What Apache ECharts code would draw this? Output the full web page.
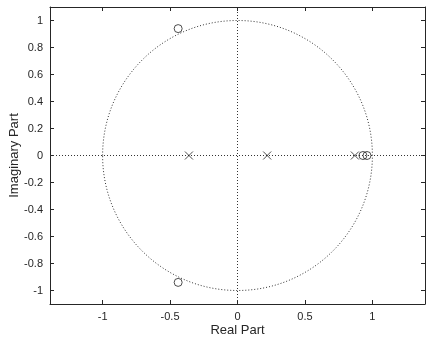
<!DOCTYPE html>
<html><head><meta charset="utf-8">
<script src="https://cdn.jsdelivr.net/npm/echarts@6/dist/echarts.min.js"></script>
<style>html,body{margin:0;padding:0;background:#fff}#c{width:427px;height:345px}</style>
</head><body><div id="c"></div>
<script>
var zeroRe = [-0.44, -0.44, 0.93, 0.96];
var zeroIm = [0.94, -0.94, 0, 0];
var poleRe = [-0.36, 0.22, 0.87];
var poleIm = [0, 0, 0];
var xTicks = [-1, -0.5, 0, 0.5, 1];
var yTicks = [-1, -0.8, -0.6, -0.4, -0.2, 0, 0.2, 0.4, 0.6, 0.8, 1];
var unitCircle = [[0, 0, 1]];

var font = 'Liberation Sans, Arial, sans-serif';
var axCol = '#262626';
function pairs(a, b) { return a.map(function (v, i) { return [v, b[i]]; }); }
function fmt(v) { return String(v); }
function xAx(pos, show) {
  return {
    type: 'value', position: pos, min: -1.39, max: 1.39,
    splitLine: { show: false },
    axisLine: { show: true, onZero: false, lineStyle: { color: axCol, width: 1 } },
    axisTick: { show: true, inside: true, length: 4, customValues: xTicks, lineStyle: { color: axCol } },
    axisLabel: { show: show, customValues: xTicks, formatter: fmt, color: axCol, fontFamily: font, fontSize: 11, margin: 7 },
    name: show ? 'Real Part' : '', nameLocation: 'middle', nameGap: 20, nameMoveOverlap: false,
    nameTextStyle: { color: axCol, fontFamily: font, fontSize: 13 }
  };
}
function yAx(pos, show) {
  return {
    type: 'value', position: pos, min: -1.1, max: 1.1,
    splitLine: { show: false },
    axisLine: { show: true, onZero: false, lineStyle: { color: axCol, width: 1 } },
    axisTick: { show: true, inside: true, length: 4, customValues: yTicks, lineStyle: { color: axCol } },
    axisLabel: { show: show, customValues: yTicks, formatter: fmt, color: axCol, fontFamily: font, fontSize: 11, margin: 7 },
    name: show ? 'Imaginary Part' : '', nameLocation: 'middle', nameGap: 29, nameMoveOverlap: false,
    nameTextStyle: { color: axCol, fontFamily: font, fontSize: 13 }
  };
}
var chart = echarts.init(document.getElementById('c'), null, { renderer: 'canvas' });
chart.setOption({
  animation: false,
  backgroundColor: '#fff',
  grid: { left: 50, top: 7, right: 2, bottom: 41, containLabel: false, outerBoundsMode: 'none' },
  xAxis: [xAx('bottom', true), xAx('top', false)],
  yAxis: [yAx('left', true), yAx('right', false)],
  series: [
    {
      type: 'custom', xAxisIndex: 0, yAxisIndex: 0, silent: true, z: 1,
      data: unitCircle,
      renderItem: function (params, api) {
        var c = api.coord([api.value(0), api.value(1)]);
        var s = api.size([api.value(2), api.value(2)]);
        return {
          type: 'ellipse',
          shape: { cx: c[0], cy: c[1], rx: s[0], ry: s[1] },
          style: { fill: 'none', stroke: '#333', lineWidth: 1, lineDash: [1, 2] }
        };
      }
    },
    {
      type: 'line', data: [], silent: true,
      markLine: {
        silent: true, symbol: ['none', 'none'], label: { show: false },
        lineStyle: { color: '#333', type: [1, 2], width: 1 },
        data: [{ xAxis: 0 }, { yAxis: 0 }]
      }
    },
    {
      type: 'scatter', name: 'zeros', data: pairs(zeroRe, zeroIm), z: 5,
      symbol: 'circle', symbolSize: 8,
      itemStyle: { color: 'rgba(0,0,0,0)', borderColor: '#222', borderWidth: 1 }
    },
    {
      type: 'scatter', name: 'poles', data: pairs(poleRe, poleIm), z: 5,
      symbol: 'path://M0,0L10,10M10,0L0,10', symbolSize: 8,
      itemStyle: { color: 'rgba(0,0,0,0)', borderColor: '#222', borderWidth: 1 }
    }
  ]
});
</script></body></html>
